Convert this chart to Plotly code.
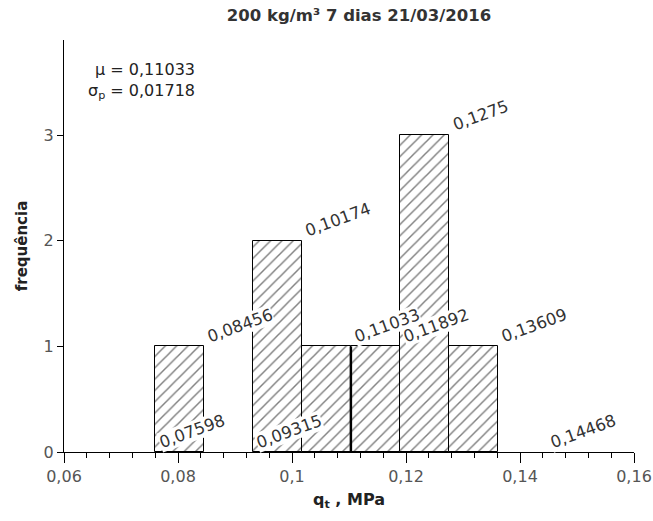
import plotly.graph_objects as go

# Bin edges (MPa) and counts per bin
edges = [0.07598, 0.08456, 0.09315, 0.10174, 0.11033, 0.11892, 0.1275, 0.13609, 0.14468]
counts = [1, 0, 2, 1, 1, 3, 1, 0]
edge_labels = ["0,07598", "0,08456", "0,09315", "0,10174", "0,11033",
               "0,11892", "0,1275", "0,13609", "0,14468"]
mean_val = 0.11033
std_val = 0.01718
title_text = "200 kg/m³ 7 dias 21/03/2016"

FONT = "DejaVu Sans"

centers, widths, heights = [], [], []
for i, c in enumerate(counts):
    if c > 0:
        centers.append((edges[i] + edges[i + 1]) / 2)
        widths.append(edges[i + 1] - edges[i])
        heights.append(c)

fig = go.Figure()
fig.add_trace(go.Bar(
    x=centers, y=heights, width=widths,
    marker=dict(color="white",
                line=dict(color="black", width=1),
                pattern=dict(shape="/", fgcolor="black", bgcolor="white",
                             size=8, solidity=0.18)),
    showlegend=False, hoverinfo="skip",
))

# mean marker
fig.add_shape(type="line", x0=mean_val, x1=mean_val, y0=0, y1=1,
              xref="x", yref="y", line=dict(color="black", width=2.5))

# edge labels, placed at the height of the bin on the left of each edge
for i, (e, lab) in enumerate(zip(edges, edge_labels)):
    h = counts[i - 1] if i > 0 else 0
    fig.add_annotation(x=e, y=h, xref="x", yref="y", text=lab,
                       showarrow=False, textangle=-20,
                       xanchor="left", yanchor="bottom",
                       xshift=0, yshift=-1,
                       bgcolor="white", borderpad=0,
                       font=dict(family=FONT, size=16.5, color="#333"))

stats = (f"μ = {mean_val:.5f}".replace(".", ",") + "<br>" +
         f"σ<sub>p</sub> = {std_val:.5f}".replace(".", ","))
fig.add_annotation(x=(197 - 64) / 570, y=(452 - 58) / 412, xref="paper", yref="paper",
                   text=stats, showarrow=False, align="right",
                   xanchor="right", yanchor="top",
                   font=dict(family=FONT, size=16, color="#222"))

fig.update_layout(
    width=653, height=521,
    margin=dict(l=64, r=19, t=40, b=69),
    paper_bgcolor="white", plot_bgcolor="white",
    separators=",.",
    bargap=0,
    title=dict(text=f"<b>{title_text}</b>", x=359 / 653, xanchor="center",
               y=1 - 15 / 521, yanchor="middle",
               font=dict(family=FONT, size=16.5, color="#333")),
    font=dict(family=FONT, size=16, color="#555"),
)
fig.update_xaxes(
    range=[0.06, 0.16], tick0=0.06, dtick=0.02,
    automargin=False,
    ticks="outside", ticklen=10, tickcolor="black",
    minor=dict(dtick=0.004, ticks="outside", ticklen=5, tickcolor="black"),
    showline=True, linecolor="black", linewidth=1,
    showgrid=False, zeroline=False,
    tickfont=dict(family=FONT, size=16, color="#555"),
    title=dict(text="<b>q<sub>t</sub> , MPa</b>", standoff=8,
               font=dict(family=FONT, size=16, color="#222")),
)
fig.update_yaxes(
    range=[0, 3.9], tickvals=[0, 1, 2, 3],
    automargin=False,
    ticks="outside", ticklen=6, tickcolor="black",
    showline=True, linecolor="black", linewidth=1,
    showgrid=False, zeroline=False,
    tickfont=dict(family=FONT, size=16, color="#555"),
    title=dict(text="<b>frequência</b>", standoff=12,
               font=dict(family=FONT, size=15, color="#222")),
)

fig.write_html("out.html")
